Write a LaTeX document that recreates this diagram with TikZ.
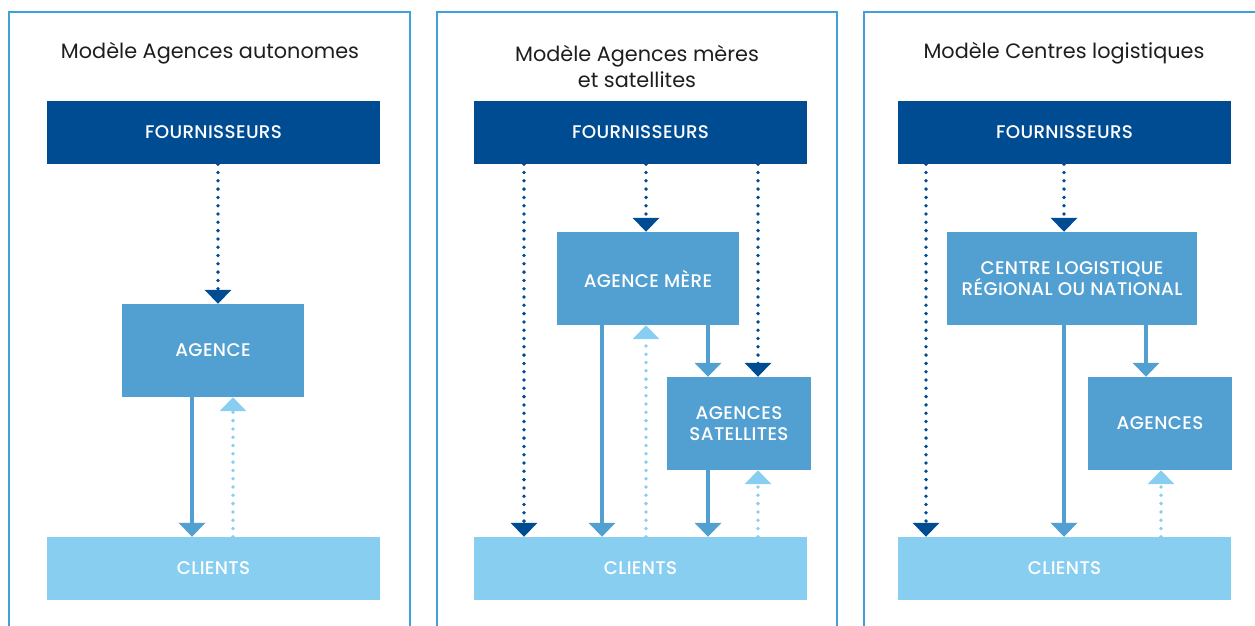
\documentclass[tikz,border=0pt]{standalone}
\usepackage{fontspec}
\setmainfont{Poppins}
\newfontfamily\boxfont{Poppins Medium}[LetterSpace=2]
\usetikzlibrary{arrows.meta, positioning}
\definecolor{darkblue}{RGB}{0,76,147}
\definecolor{midblue}{RGB}{82,159,209}
\definecolor{lightblue}{RGB}{135,206,240}
\definecolor{framecol}{RGB}{64,160,218}
\definecolor{titlecol}{RGB}{30,30,30}

\begin{document}
\begin{tikzpicture}[x=1pt, y=-1pt,
  panel/.style={draw=framecol, line width=1.5pt},
  title/.style={text=titlecol, font=\fontsize{20.8}{26}\selectfont, align=center},
  box/.style={inner sep=0pt, text=white, align=center, font=\boxfont\fontsize{18.3}{21}\selectfont},
  wide/.style={box, minimum width=333pt, minimum height=63pt},
  fourbox/.style={wide, fill=darkblue},
  clientbox/.style={wide, fill=lightblue},
  agbox/.style={box, fill=midblue, minimum height=93pt},
  tip/.style={-{Triangle[width=26pt, length=14pt]}},
  dk/.style={tip, darkblue, line width=3.8pt, line cap=round, dash pattern=on 0pt off 8.3pt},
  md/.style={tip, midblue, line width=3.5pt},
  lt/.style={tip, lightblue, line width=3.8pt, line cap=round, dash pattern=on 0pt off 8.3pt}]
\useasboundingbox (0,0) rectangle (1255,625);

% Frames
\draw[panel] (9,640) |- (410,12) -- (410,640);
\draw[panel] (437,640) |- (837,12) -- (837,640);
\draw[panel] (864,640) |- (1270,12);

% Panel 1: agences autonomes
\node[title] (t1) at (210,53.5) {Modèle Agences autonomes};
\node[fourbox] (four1) at (213.5,132.5) {FOURNISSEURS};
\node[agbox, minimum width=182pt] (agence1) at (213,350.5) {AGENCE};
\node[clientbox] (clients1) at (213.5,568.5) {CLIENTS};

\draw[dk] ([xshift=5pt]agence1.north |- four1.south) -- ([xshift=5pt]agence1.north);
\draw[md] ([xshift=-21pt]agence1.south) -- ([xshift=-21pt]agence1.south |- clients1.north);
\draw[lt] ([xshift=20pt]agence1.south |- clients1.north) -- ([xshift=20pt]agence1.south);

% Panel 2: agences meres et satellites
\node[title] (t2) at (637,66.5) {Modèle Agences mères\\et satellites};
\node[fourbox] (four2) at (640.5,132.5) {FOURNISSEURS};
\node[agbox, minimum width=182pt] (mere) at (648,278.5) {AGENCE MÈRE};
\node[agbox, minimum width=144pt] (sat) at (739,423.5) {AGENCES\\SATELLITES};
\node[clientbox] (clients2) at (640.5,568.5) {CLIENTS};

\draw[dk] ([xshift=-116.5pt]four2.south) -- ([xshift=-116.5pt]four2.south |- clients2.north);
\draw[dk] ([xshift=-2pt]mere.north |- four2.south) -- ([xshift=-2pt]mere.north);
\draw[dk] ([xshift=19pt]sat.north |- four2.south) -- ([xshift=19pt]sat.north);
\draw[md] ([xshift=-46pt]mere.south) -- ([xshift=-46pt]mere.south |- clients2.north);
\draw[lt] ([xshift=-2pt]mere.south |- clients2.north) -- ([xshift=-2pt]mere.south);
\draw[md] ([xshift=-31pt]sat.north |- mere.south) -- ([xshift=-31pt]sat.north);
\draw[md] ([xshift=-31pt]sat.south) -- ([xshift=-31pt]sat.south |- clients2.north);
\draw[lt] ([xshift=19pt]sat.south |- clients2.north) -- ([xshift=19pt]sat.south);

% Panel 3: centres logistiques
\node[title] (t3) at (1064,53.5) {Modèle Centres logistiques};
\node[fourbox] (four3) at (1064.5,132.5) {FOURNISSEURS};
\node[agbox, minimum width=250pt] (centre) at (1072,278.5) {CENTRE LOGISTIQUE\\RÉGIONAL OU NATIONAL};
\node[agbox, minimum width=144pt] (agences3) at (1160,423.5) {AGENCES};
\node[clientbox] (clients3) at (1064.5,568.5) {CLIENTS};

\draw[dk] ([xshift=-138.5pt]four3.south) -- ([xshift=-138.5pt]four3.south |- clients3.north);
\draw[dk] ([xshift=-8pt]centre.north |- four3.south) -- ([xshift=-8pt]centre.north);
\draw[md] ([xshift=-8pt]centre.south) -- ([xshift=-8pt]centre.south |- clients3.north);
\draw[md] ([xshift=-14pt]agences3.north |- centre.south) -- ([xshift=-14pt]agences3.north);
\draw[lt] ([xshift=1pt]agences3.south |- clients3.north) -- ([xshift=1pt]agences3.south);
\end{tikzpicture}
\end{document}
